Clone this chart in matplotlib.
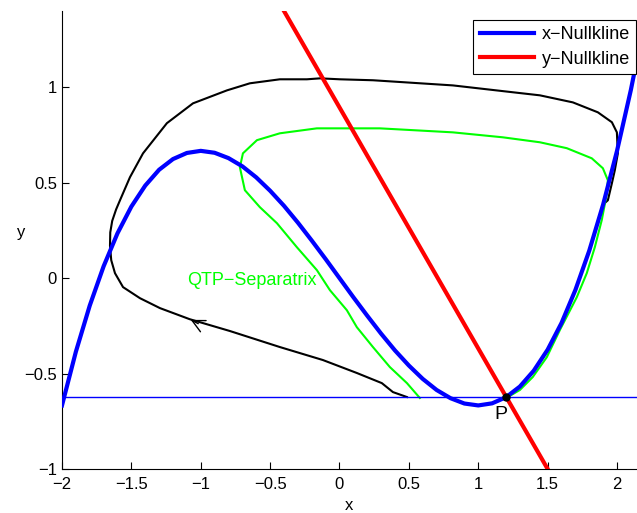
import matplotlib.pyplot as plt

plt.rcParams['font.family'] = ['Liberation Sans', 'DejaVu Sans']

# x-nullcline (cubic branch)
null_x = [-2.0, -1.9, -1.8, -1.7, -1.6, -1.5, -1.4, -1.3, -1.2, -1.1, -1.0,
          -0.9, -0.8, -0.7, -0.6, -0.5, -0.4, -0.3, -0.2, -0.1, 0.0,
          0.1, 0.2, 0.3, 0.4, 0.5, 0.6, 0.7, 0.8, 0.9, 1.0,
          1.1, 1.2, 1.3, 1.4, 1.5, 1.6, 1.7, 1.8, 1.9, 2.0, 2.1, 2.2]
null_y = [-0.667, -0.386, -0.144, 0.062, 0.235, 0.375, 0.485, 0.568, 0.624, 0.656, 0.667,
          0.657, 0.629, 0.586, 0.528, 0.458, 0.379, 0.291, 0.197, 0.100, 0.0,
          -0.100, -0.197, -0.291, -0.379, -0.458, -0.528, -0.586, -0.629, -0.657, -0.667,
          -0.656, -0.624, -0.568, -0.485, -0.375, -0.235, -0.062, 0.144, 0.386, 0.667, 0.987, 1.349]

# y-nullcline (straight line)
ynull_x = [-0.45, 1.55]
ynull_y = [1.463, -1.063]

# equilibrium P
p_x, p_y = 1.2, -0.624

# trajectory after the kick
traj_x = [0.486, 0.385, 0.305, 0.125, -0.12, -0.43, -0.79, -1.08, -1.294, -1.438,
          -1.56, -1.618, -1.645, -1.654, -1.652, -1.638, -1.61, -1.582, -1.51, -1.416, -1.244,
          -1.056, -0.811, -0.646, -0.43, -0.235, -0.14, 0.003, 0.241, 0.817, 1.25, 1.444,
          1.682, 1.862, 1.963, 1.999, 2.006, 1.984, 1.963, 1.934,
          1.9, 1.8, 1.7, 1.6, 1.5, 1.4, 1.3, 1.2]
traj_y = [-0.623, -0.597, -0.55, -0.497, -0.429, -0.361, -0.277, -0.215, -0.157, -0.105,
          -0.047, 0.026, 0.094, 0.17, 0.24, 0.3, 0.36, 0.408, 0.529, 0.654, 0.812,
          0.916, 0.984, 1.021, 1.042, 1.042, 1.047, 1.042, 1.037, 1.01, 0.974, 0.958,
          0.921, 0.869, 0.817, 0.764, 0.654, 0.565, 0.497, 0.408,
          0.386, 0.144, -0.062, -0.235, -0.375, -0.485, -0.568, -0.624]

# QTP separatrix
sep_x = [0.579, 0.486, 0.363, 0.241, 0.125, 0.053, -0.069, -0.163, -0.307, -0.451, -0.574,
         -0.682, -0.718, -0.696, -0.595, -0.43, -0.163, 0.29, 0.817, 1.177, 1.444,
         1.638, 1.818, 1.898, 1.934, 1.927, 1.89, 1.84, 1.782, 1.71, 1.588, 1.494,
         1.393, 1.3, 1.213]
sep_y = [-0.628, -0.55, -0.466, -0.361, -0.257, -0.168, -0.063, 0.042, 0.162, 0.288, 0.372,
         0.461, 0.581, 0.654, 0.723, 0.759, 0.785, 0.785, 0.764, 0.738, 0.712,
         0.681, 0.628, 0.576, 0.513, 0.445, 0.304, 0.162, 0.026, -0.1, -0.272, -0.414,
         -0.518, -0.586, -0.623]

x_ticks = [-2, -1.5, -1, -0.5, 0, 0.5, 1, 1.5, 2]
x_labels = ['\u22122', '\u22121.5', '\u22121', '\u22120.5', '0', '0.5', '1', '1.5', '2']
y_ticks = [-1, -0.5, 0, 0.5, 1]
y_labels = ['\u22121', '\u22120.5', '0', '0.5', '1']

fig = plt.figure(figsize=(6.37, 5.13), dpi=100)
ax = fig.add_axes([0.0973, 0.0858, 0.9027, 0.8928])

ax.plot(traj_x, traj_y, color='black', lw=1.5, zorder=2)
ax.annotate('', xy=(-1.09, -0.212), xytext=(-1.0, -0.245),
            arrowprops=dict(arrowstyle='->,head_length=0.9,head_width=0.45',
                            color='black', lw=1.0), zorder=2)
ax.plot(sep_x, sep_y, color=(0, 1, 0), lw=1.5, zorder=2)
ax.axhline(p_y, color='blue', lw=1.0, zorder=3)
ax.plot(null_x, null_y, color='blue', lw=3, label='x\u2212Nullkline', zorder=4)
ax.plot(ynull_x, ynull_y, color='red', lw=3, label='y\u2212Nullkline', zorder=4)
ax.plot([p_x], [p_y], 'o', color='black', ms=5, zorder=5)
ax.text(1.16, -0.715, 'P', fontsize=14, ha='center', va='center')
ax.text(-1.1, -0.01, 'QTP\u2212Separatrix', color=(0, 1, 0), fontsize=13,
        ha='left', va='center')

ax.set_xlim(-2, 2.144)
ax.set_ylim(-1, 1.4)
ax.set_xticks(x_ticks)
ax.set_xticklabels(x_labels)
ax.set_yticks(y_ticks)
ax.set_yticklabels(y_labels)
ax.tick_params(direction='in', length=5, labelsize=12, width=0.8)
ax.tick_params(axis='x', pad=6)
ax.spines['top'].set_visible(False)
ax.spines['right'].set_visible(False)
ax.set_xlabel('x', fontsize=12, labelpad=4)
ax.set_ylabel('y', fontsize=12, rotation=0, labelpad=2)

leg = ax.legend(loc='upper right', bbox_to_anchor=(0.999, 0.98), fontsize=13,
                fancybox=False, framealpha=1, edgecolor='black', handlelength=3.0,
                borderaxespad=0, borderpad=0.35, labelspacing=0.4, handletextpad=0.45)
leg.get_frame().set_linewidth(0.8)

fig.savefig('out.png', dpi=100)
